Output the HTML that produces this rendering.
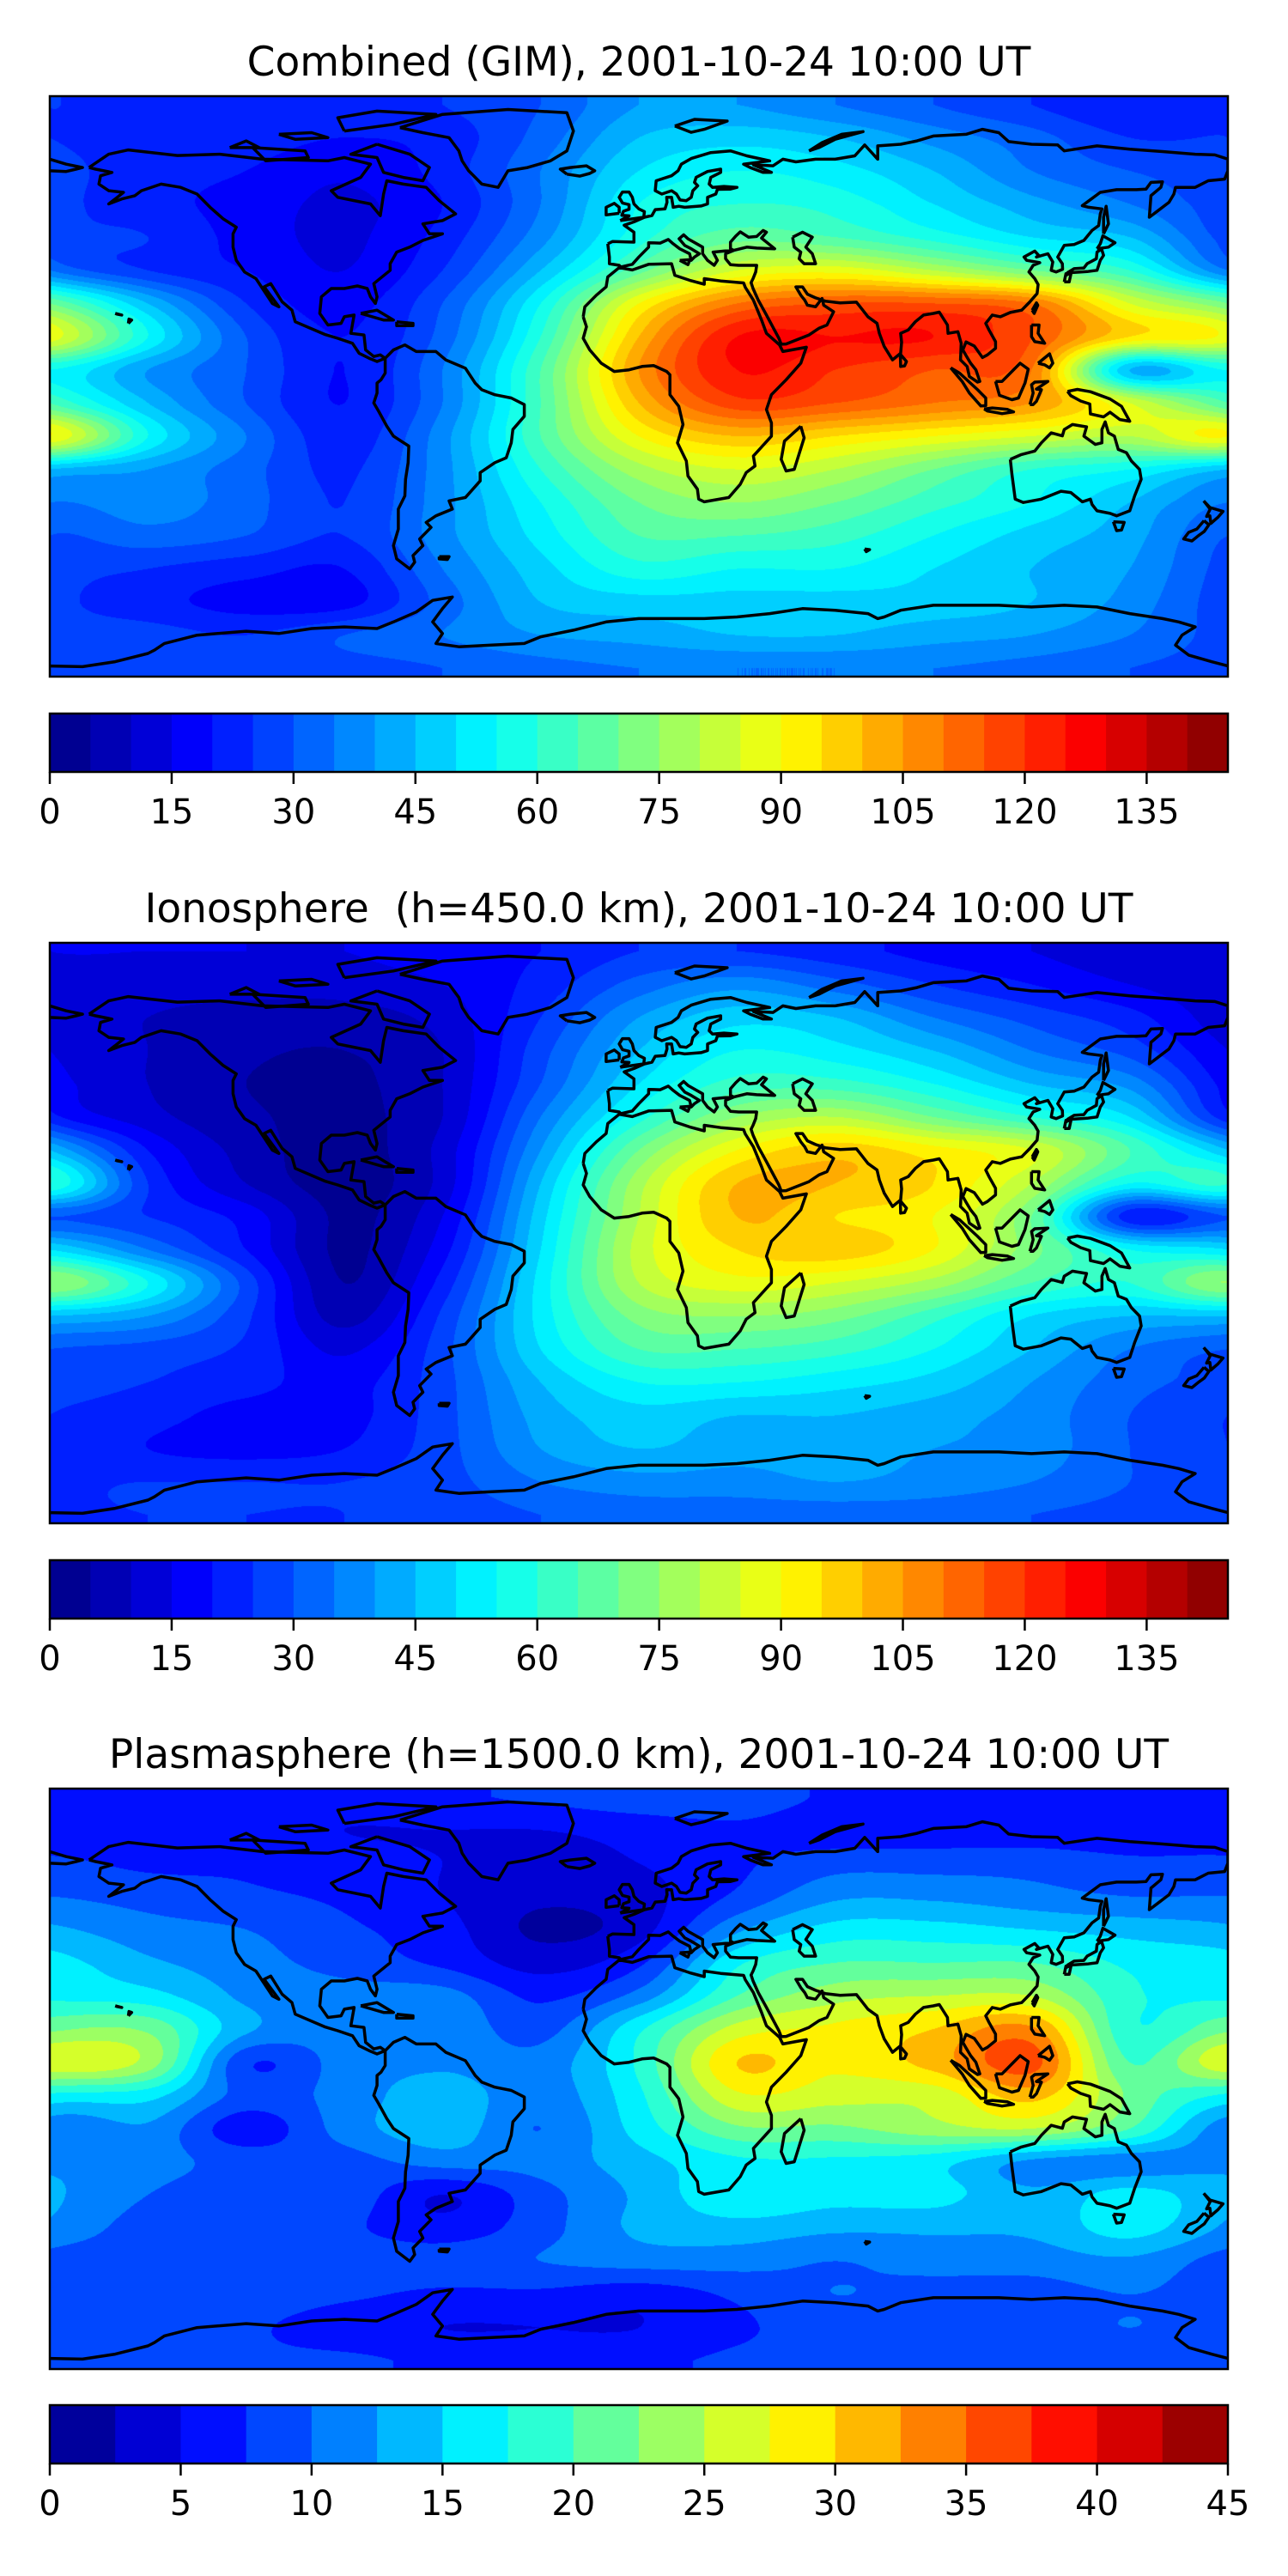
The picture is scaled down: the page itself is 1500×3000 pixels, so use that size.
<!DOCTYPE html>
<html><head><meta charset="utf-8">
<style>
html,body{margin:0;padding:0;background:#fff;}
body{width:1500px;height:3000px;position:relative;overflow:hidden;font-family:"DejaVu Sans","Liberation Sans",sans-serif;}
canvas{position:absolute;}
svg{position:absolute;left:0;top:0;}
</style></head>
<body>
<canvas id="c0"></canvas>
<canvas id="c1"></canvas>
<canvas id="c2"></canvas>
<svg id="ov" width="1500" height="3000"></svg>
<script>
// grid axes
const LONS=[-180,-150,-120,-90,-60,-30,0,30,60,90,120,150,180];
const LATS=[85,75,65,55,45,35,25,15,5,-5,-15,-25,-35,-45,-55,-65,-75,-85];
// Combined GIM TEC values (rows = LATS, cols = LONS)
const combinedGrid=[
[25,22,22,22,25,30,40,40,35,30,25,20,25],
[25,22,22,20,22,32,45,48,45,38,32,25,25],
[27,22,20,16,22,35,50,55,52,45,35,30,27],
[27,22,18,14,20,35,55,60,58,50,42,35,27],
[28,25,18,14,22,38,58,68,65,58,50,45,35],
[35,25,20,15,25,45,68,85,88,80,70,60,45],
[70,45,25,18,30,55,90,110,115,115,110,85,75],
[88,55,30,20,32,60,100,125,125,125,115,95,88],
[55,40,30,20,35,65,105,125,120,115,110,45,50],
[65,45,30,20,35,65,100,118,115,110,105,85,80],
[90,55,35,22,38,65,90,100,95,90,85,80,90],
[45,40,32,24,38,60,78,85,80,70,60,55,50],
[35,38,32,25,38,55,70,75,70,62,55,45,40],
[30,33,30,25,38,52,65,65,62,55,48,42,35],
[28,25,22,20,35,48,58,55,55,50,45,40,30],
[27,22,18,18,32,45,48,48,48,48,45,38,28],
[28,27,25,30,35,40,42,45,45,42,40,35,30],
[28,27,27,28,30,33,35,35,35,35,33,30,28]];
// Ionosphere values
const ionoGrid=[
[15,15,15,15,18,20,25,25,22,18,15,12,15],
[12,12,12,12,15,22,32,38,32,25,20,15,12],
[12,10,8,8,12,25,40,48,45,35,28,22,12],
[15,10,6,5,10,28,45,55,52,45,35,28,15],
[18,10,5,4,10,30,50,62,62,55,45,38,22],
[22,12,6,4,10,35,58,75,80,70,60,50,35],
[45,20,8,3,12,40,70,90,98,92,85,65,50],
[60,25,10,3,12,45,78,100,100,95,80,55,60],
[30,25,18,4,15,48,80,100,95,90,70,22,35],
[50,35,20,4,18,50,82,95,98,90,72,55,55],
[75,55,28,5,22,52,80,88,85,78,65,60,72],
[45,40,26,8,26,52,72,75,72,62,50,45,42],
[30,28,24,14,28,50,65,65,62,55,45,35,30],
[28,25,22,18,28,45,55,55,52,48,40,32,28],
[25,22,18,18,28,42,48,45,45,42,38,30,25],
[25,20,18,20,28,40,45,42,42,40,38,30,25],
[25,25,25,25,28,35,38,38,40,38,35,30,25],
[25,25,25,25,27,30,32,32,32,32,30,28,25]];
// Plasmasphere values
const plasmaGrid=[
[6,6,6,6,7,8,9,9,7,6,6,6,6],
[6,6,6,5,5,5,6,7,6,6,6,6,6],
[8,7,7,6,5,4,5,7,9,9,9,8,8],
[10,9,8,7,5,3,4,8,12,12,11,10,10],
[13,11,10,8,6,2,4,12,16,16,15,14,13],
[16,13,11,9,7,4,7,17,20,20,20,17,16],
[17,16,12,11,11,7,11,20,24,25,25,18,16],
[22,22,13,11,12,9,17,26,28,30,33,18,18],
[27,24,8,11,12,11,18,30,28,31,36,20,27],
[17,16,9,11,14,11,17,27,26,26,31,22,17],
[11,12,6,11,14,10,16,22,22,24,25,20,14],
[12,11,9,9,11,11,14,17,17,16,12,11,12],
[13,10,9,9,5,9,13,17,16,16,13,16,13],
[12,9,9,8,6,9,13,14,13,13,13,16,12],
[9,9,9,9,9,10,11,11,10,11,11,12,9],
[9,9,9,8,7,7,6,8,10,9,9,10,9],
[9,9,8,6,5,5,5,7,9,9,9,10,9],
[9,9,8,8,7,7,7,8,9,9,9,9,9]];
// contour levels and colorbar ticks
const tecLevels=[0,5,10,15,20,25,30,35,40,45,50,55,60,65,70,75,80,85,90,95,100,105,110,115,120,125,130,135,140,145];
const tecTicks=[0,15,30,45,60,75,90,105,120,135];
const plasmaLevels=[0,2.5,5,7.5,10,12.5,15,17.5,20,22.5,25,27.5,30,32.5,35,37.5,40,42.5,45];
const plasmaTicks=[0,5,10,15,20,25,30,35,40,45];
const titles=["Combined (GIM), 2001-10-24 10:00 UT","Ionosphere\u00a0 (h=450.0 km), 2001-10-24 10:00 UT","Plasmasphere (h=1500.0 km), 2001-10-24 10:00 UT"];

// coastlines [lon,lat]
const coasts=[
[[-168,66],[-162,70],[-156,71.3],[-141,69.6],[-128,70],[-115,68.5],[-95,68],[-90,69],[-82,67],[-85,63],[-94,59],[-92,57],[-82,55],[-79,51.5],[-78,58],[-77,62],[-72,61],[-65,60],[-61,56],[-56,52],[-60,50],[-66,49],[-64,46],[-60,46],[-66,44],[-70,42],[-74,40.5],[-76,37],[-76,35],[-81,31],[-80,27],[-80.5,25],[-82,27],[-83,29.5],[-86,30.3],[-90,29.5],[-94,29.5],[-97,27],[-97.5,22],[-95,18.5],[-91,19],[-90,21],[-87,21.5],[-88,16],[-84,15.5],[-83.5,11],[-81,9],[-79,9.5],[-77.5,8.5],[-80,7.5],[-82,8.3],[-85.5,10],[-87.5,13],[-92,14.5],[-96,15.7],[-105,19.5],[-106,23],[-109,25.5],[-112.5,31],[-114.5,30],[-110,24],[-112,25],[-115,29.5],[-117,32.5],[-120.5,34.5],[-123,38],[-124,42],[-124,46],[-123,48],[-127,50.5],[-131,54],[-135,58],[-140,60],[-146,61],[-152,59],[-154,57.5],[-158,56.5],[-162,55],[-160,56.5],[-157.5,58.5],[-162,59],[-165,61],[-164.5,63.5],[-161,64.5],[-166,65.5],[-168,66]],
[[-73,78],[-60,82],[-40,83.5],[-22,82.5],[-20,77],[-22,71],[-27,68],[-34,66],[-40,65],[-43,60],[-48,61],[-52,65],[-54,68],[-55,71],[-58,75],[-66,76.5],[-73,78]],
[[-80,73],[-70,70],[-64,66],[-66,62],[-72,63],[-78,64.5],[-80,69],[-88,70],[-80,73]],
[[-118,72],[-102,71],[-101,69],[-114,68],[-118,72]],
[[-90,77],[-75,79],[-62,82],[-80,83],[-92,81],[-90,77]],
[[-125,72],[-120,74],[-116,72],[-125,72]],
[[-110,76],[-100,76.5],[-95,75],[-105,74.5],[-110,76]],
[[-85,22],[-80,23],[-75,20],[-78,20],[-85,22]],
[[-74,19.5],[-69,19],[-69,18.3],[-74,18.3],[-74,19.5]],
[[-156,19],[-155,20],[-155.8,20.3],[-156,19]],
[[-160,22],[-158,21.5],[-159.5,21.8],[-160,22]],
[[-77.5,8.5],[-75,11],[-71.5,12.5],[-68,10.5],[-62,10.5],[-59,8],[-53,5.5],[-50,1],[-48,-1],[-44,-2.5],[-39,-3.5],[-35,-5.5],[-35,-9],[-38.5,-13],[-39,-17],[-40.5,-21.5],[-44,-23],[-48.5,-26],[-48.5,-28.5],[-53,-33.5],[-58,-34.5],[-57,-37],[-62,-39],[-65,-41],[-63.5,-42.5],[-67,-46],[-66,-48],[-69,-51],[-68.5,-53],[-70,-55],[-74,-52],[-75,-48],[-73.5,-43],[-73.5,-37],[-71.5,-33],[-71.3,-28],[-70.5,-23],[-70.3,-18],[-75,-15],[-77,-12],[-79.5,-7.5],[-81,-5],[-80,-2],[-80,1],[-78.8,2],[-77.5,4],[-77.5,8.5]],
[[-61,-51.3],[-58,-51.3],[-58.5,-52.2],[-61,-52],[-61,-51.3]],
[[-17,21],[-16.5,24],[-13,27.5],[-10,30],[-9.5,33],[-6,35.8],[-2,35.1],[3,36.8],[10,37],[11,33.5],[15.5,32],[20,30.8],[20,32.5],[25,31.8],[32,31.2],[32.5,29.9],[35,26],[37.5,20],[39,16],[43,12.5],[44,10.5],[51.2,11.8],[49.5,7],[45,2],[40.5,-2.5],[39,-7],[40.5,-11],[40.5,-15],[35,-21],[35.5,-24],[32.8,-26],[31,-29.5],[27.5,-33.5],[20,-34.8],[18.3,-34],[17.9,-31],[15,-27],[14.5,-22.5],[11.8,-17],[13.5,-11.5],[12.2,-6],[9.5,-2.5],[9.5,3.5],[8.5,4.5],[4.5,6.3],[1,6],[-3,5],[-7.5,4.5],[-11.5,7],[-15,11],[-17,14.5],[-16,18],[-17,21]],
[[49.5,-12],[50.5,-15.5],[47.5,-25],[45,-25.5],[43.5,-22],[44.5,-16.5],[49.5,-12]],
[[-9.5,43],[-9,39],[-9,37],[-6,36.5],[-5.5,36],[-2,36.8],[0,39],[3,42],[3,43.3],[6.5,43.2],[9,44.3],[10.5,43],[12.5,41.5],[15.5,40],[16,38],[17,39],[18.5,40],[16,41.5],[14,42.5],[12.3,44.5],[13.7,45.7],[15,44.5],[19.5,42],[19.5,40],[21,38],[23,36.5],[24,38],[22.7,40.5],[26,40.8],[29,41],[28,41.5],[28,43.5],[29.6,45.3],[31,46.6],[33.5,45],[36,45.2],[38,47],[39,46.5],[37.5,44.7],[41.5,41.5],[36,41.7],[33,42],[29,41],[26.5,40],[26.5,38.5],[28,36.7],[30.5,36.5],[36,36.5],[35.7,34.5],[34.9,32.5],[34.3,31.3],[34.9,29.5],[36.5,26],[39,21.5],[42.8,14.5],[43.5,12.7],[45,12.8],[52,15.5],[55,17.5],[57.5,18.5],[59.5,22.5],[56.5,24.5],[56,26.5],[54,24],[51.5,24.5],[50.7,26],[49.5,27.5],[48,30],[50,30],[51.5,27.8],[54,26.7],[57,25.7],[61.5,25.2],[66.5,25.4],[68,23.5],[70,21],[72.8,19],[73.5,16],[75,12],[77.5,8],[80,10],[80.3,13.3],[80,16],[82.3,17],[84.5,19.5],[87,21.5],[90,22],[91.8,22.4],[94.3,18.5],[94.5,16],[97.5,16.5],[98.5,13],[98.3,8],[100.3,6],[101,3],[103.5,1.3],[104.2,1.5],[103,5],[101.4,7],[100,9.3],[99,11],[100,13.4],[102.5,12.2],[105,8.7],[106.5,9.5],[109,11.5],[109,13.5],[107,17],[106,19],[108,21.5],[110.5,21],[113.5,22.3],[117,23],[119.5,25.5],[121.7,28],[122,30.7],[121,32.5],[119.2,34.5],[120.5,36.5],[122.5,37.3],[118.5,38],[117.7,39],[121,40.8],[122.2,39.5],[121.5,39],[125,40],[126.5,37.5],[126,35],[127.5,34.5],[129.5,35.3],[129.4,37],[128,39],[130,42.5],[133,42.8],[136,44],[138.5,47],[140.5,48.5],[141,52],[141.5,53.5],[137.5,54],[135.5,54.5],[141,58.5],[146,59.3],[152,59.3],[155,59.5],[156.5,61.5],[160,61.7],[159.5,60],[156.5,57.5],[156,51],[158,52.5],[162,55.5],[163.5,58],[164,60],[170,60],[174,62],[179,62.5],[180,65],[180,68.5],[176,69.8],[170,70],[160,70.8],[150,71.5],[140,72.5],[130,71],[128,72.8],[120,73],[113,73.8],[110,76.5],[105,77.5],[100,76],[90,75.5],[85,74],[80,73],[73,72.5],[73,68.5],[69,72.8],[66,69.5],[60,68.5],[54,68.5],[48,67.7],[44,68.5],[41,66.5],[35,66.8],[40.5,64.5],[38,64.5],[34,66],[32,67],[40,68],[33,69.5],[28,71],[22,70.5],[16,68.7],[13,67],[12,65],[10,63.5],[5.3,62],[5,59],[7,58],[10,59],[11.5,58],[12.6,56.2],[14.5,56],[16,57],[16.5,59],[18,60.5],[17,61.5],[17.5,63],[21,64.8],[25,65.5],[25,64.5],[22,63],[21.5,61],[22.5,60],[26,60.3],[30,60],[28,59.5],[24,59.4],[23.5,58],[21,57],[21,56],[21,55],[19,54.4],[14,54],[12.2,54.3],[10.5,54],[10,57],[8.5,57],[8.6,55.5],[8,53.5],[5,53.3],[4,51.5],[1.7,51],[-1.5,49.6],[-4.5,48.6],[-1.5,46.5],[-1.5,43.5],[-8,43.7],[-9.5,43]],
[[-180,65],[-175,64.8],[-172,65.5],[-170,66],[-175,67],[-180,68.5]],
[[47,45],[50,46.5],[53,45],[51,42],[53,40],[54,37],[50.5,37],[49,38.5],[49.5,40.5],[47.5,42],[47,45]],
[[130.5,33.5],[132,34.3],[135,34.5],[137,34.6],[140,35],[141,38],[142,39.5],[141.4,41.4],[140,40.5],[139.8,38.5],[137,37],[136,35.7],[133,35.5],[131,34.3],[130.5,33.5]],
[[140,41.5],[141,43],[141.8,45.4],[145.5,43.3],[143.5,42],[140,41.5]],
[[130,31.5],[131.5,31.5],[132,33.8],[130.5,34],[130,31.5]],
[[142,46],[143.5,49],[142.8,54.3],[142,51],[142,46]],
[[120.2,23],[121.5,25.2],[121.9,24.5],[120.8,22],[120.2,23]],
[[120,18.5],[122.3,18.5],[122,16],[124,13],[121,13.5],[120,15],[120,18.5]],
[[122,7],[125.5,9.8],[126.5,7],[125.5,5.6],[124,6.5],[122,7]],
[[109,1.5],[111,1.5],[116.5,7],[119,5.2],[118,1],[116,-3.5],[114,-4],[110.2,-2.7],[109,1.5]],
[[95.3,5.6],[98,4],[103.5,-1],[106,-3.5],[106,-5.8],[104.5,-5.9],[101,-2],[98.8,1.5],[95.3,5.6]],
[[105.5,-6.8],[108,-6.5],[112.6,-6.9],[114.5,-7.7],[111,-8.2],[106.5,-7.4],[105.5,-6.8]],
[[119.5,-5.5],[120.5,-2],[120,0.5],[121,1.3],[125,1.5],[121.5,-0.8],[123,-1],[121.5,-4.5],[120.5,-5.5],[119.5,-5.5]],
[[131,-1.5],[134,-0.9],[138,-1.6],[144,-3.8],[147.5,-6],[150,-10.5],[147,-10],[144,-7.8],[142,-9.2],[138,-8.3],[137.8,-5.3],[135,-4.4],[132,-2.8],[131,-1.5]],
[[113.5,-22],[114,-26.5],[115,-34],[117.5,-35],[123,-34],[129,-31.6],[132,-32],[135.5,-34.8],[138,-34],[138.5,-35.6],[140,-37.5],[144,-38.3],[146,-39],[150,-37.5],[151.5,-33],[153.5,-28],[153,-25],[150.5,-22.5],[149,-20],[146.5,-19],[145.3,-15],[143.5,-14],[142.5,-10.7],[141.5,-13],[141.5,-17],[139.5,-17.5],[136,-15],[136.8,-12.2],[132.5,-11.5],[130,-13],[129.4,-14.9],[126,-14],[123,-17],[121,-19.5],[116.7,-20.6],[113.5,-22]],
[[145,-40.8],[148.3,-41],[147.5,-43.3],[146,-43.5],[145,-40.8]],
[[172.6,-34.5],[174.5,-36.5],[178.5,-37.7],[176.9,-39.5],[174.8,-41.3],[174.5,-39],[173.5,-39.2],[174.6,-37],[172.6,-34.5]],
[[172.7,-40.5],[174.2,-41.7],[172.8,-43.7],[171,-45],[169,-46.6],[166.5,-46],[168,-44],[170.5,-43],[172.7,-40.5]],
[[79.9,9.7],[81.8,7.5],[81.2,6.2],[80,6],[79.9,9.7]],
[[-5.7,50],[1.5,51],[1.7,52.7],[0,53.5],[-1.5,55],[-2,57],[-3,58.6],[-5,58.6],[-6,57],[-5,55.3],[-3,54.8],[-3,53.4],[-4.7,52.8],[-5.2,51.6],[-3,51.4],[-5.7,50]],
[[-6,52.2],[-6,54],[-7.5,55.2],[-10,54],[-10,51.7],[-6,52.2]],
[[-22,64],[-24,65.5],[-21,66],[-16,66.5],[-13.5,65],[-15,64.2],[-18,63.4],[-22,64]],
[[11,78.5],[17,80.5],[27,80],[20,77.5],[16,76.6],[11,78.5]],
[[52,71],[56,73.5],[62,76],[68.5,76.8],[60,74.5],[55,72],[52,71]],
[[12.5,38],[15.6,38.2],[15,36.7],[12.5,38]],
[[69,-49],[70.5,-49.2],[69.5,-49.8],[69,-49]],
[[-180,-84.3],[-170,-84.5],[-160,-83],[-150,-80.5],[-148,-79.5],[-145,-77.5],[-135,-75],[-120,-73.8],[-110,-74.5],[-100,-73],[-90,-72.5],[-80,-73],[-75,-71],[-68,-68],[-63,-64.5],[-57,-63.5],[-60,-67],[-63,-71],[-60,-74.5],[-62,-77.5],[-55,-78.5],[-45,-78],[-35,-77.5],[-30,-75.5],[-20,-73.5],[-10,-71],[0,-70],[10,-70],[20,-70],[30,-69.5],[40,-68.5],[50,-67],[60,-67.5],[70,-68.5],[73,-70],[75,-69.5],[80,-67.5],[90,-66],[100,-66],[110,-66],[120,-66.5],[130,-66],[140,-66.5],[150,-68.5],[160,-70],[165,-71],[170,-72.5],[166,-75],[164,-78],[168,-81],[175,-83],[180,-84.3]]
];

const NS='http://www.w3.org/2000/svg';
const ov=document.getElementById('ov');
const MX=58, MW=1372, MH=676;
const mapTops=[112,1098,2083];
const cbTops=[831,1817,2801];
const CBH=68;
const grids=[combinedGrid,ionoGrid,plasmaGrid];
const levelSets=[tecLevels,tecLevels,plasmaLevels];
const tickSets=[tecTicks,tecTicks,plasmaTicks];
const panelNames=['combined','ionosphere','plasmasphere'];

function jet(x){
  const c=v=>Math.max(0,Math.min(1,v));
  return [c(1.5-Math.abs(4*x-3)),c(1.5-Math.abs(4*x-2)),c(1.5-Math.abs(4*x-1))].map(v=>Math.round(v*255));
}
function cr(p0,p1,p2,p3,t){
  return 0.5*((2*p1)+(-p0+p2)*t+(2*p0-5*p1+4*p2-p3)*t*t+(-p0+3*p1-3*p2+p3)*t*t*t);
}
function sample(g,lon,lat){
  const nC=LONS.length-1, nR=LATS.length;
  const dLon=LONS[1]-LONS[0], dLat=LATS[0]-LATS[1];
  const fx=(lon-LONS[0])/dLon;
  let fy=(LATS[0]-lat)/dLat;
  fy=Math.max(0,Math.min(nR-1,fy));
  const ix=Math.floor(fx), tx=fx-ix;
  const iy=Math.min(nR-2,Math.floor(fy)), ty=fy-iy;
  const rows=[];
  for(let j=-1;j<=2;j++){
    const r=g[Math.max(0,Math.min(nR-1,iy+j))];
    const v=[];
    for(let i=-1;i<=2;i++){v.push(r[((ix+i)%nC+nC)%nC]);}
    rows.push(cr(v[0],v[1],v[2],v[3],tx));
  }
  return cr(rows[0],rows[1],rows[2],rows[3],ty);
}
function px(lon){return MX+(lon+180)/360*MW;}
function py(lat,top){return top+(87.5-lat)/175*MH;}
function mk(tag,attrs,parent){
  const e=document.createElementNS(NS,tag);
  for(const k in attrs)e.setAttribute(k,attrs[k]);
  (parent||ov).appendChild(e);return e;
}

for(let p=0;p<3;p++){
  const top=mapTops[p], g=grids[p], lv=levelSets[p], N=lv.length-1;
  const cv=document.getElementById('c'+p);
  cv.width=MW;cv.height=MH;cv.style.left=MX+'px';cv.style.top=top+'px';
  const ctx=cv.getContext('2d');
  const img=ctx.createImageData(MW,MH);
  const pal=[];for(let i=0;i<N;i++)pal.push(jet((i+0.5)/N));
  const lonArr=new Float32Array(MW);
  for(let x=0;x<MW;x++)lonArr[x]=-180+(x+0.5)/MW*360;
  for(let y=0;y<MH;y++){
    const lat=87.5-(y+0.5)/MH*175;
    for(let x=0;x<MW;x++){
      const v=sample(g,lonArr[x],lat);
      let k=0;while(k<N-1&&v>=lv[k+1])k++;
      const c=pal[k],o=(y*MW+x)*4;
      img.data[o]=c[0];img.data[o+1]=c[1];img.data[o+2]=c[2];img.data[o+3]=255;
    }
  }
  ctx.putImageData(img,0,0);

  const t=mk('text',{x:744,y:top-24,'text-anchor':'middle','font-size':47,fill:'#000','font-family':'DejaVu Sans, Liberation Sans, sans-serif'});
  
  
  t.textContent=titles[p];

  const defs=mk('defs',{});
  const cp=mk('clipPath',{id:'clip'+p},defs);
  mk('rect',{x:MX,y:top,width:MW,height:MH},cp);
  const cg=mk('g',{fill:'none',stroke:'#000','stroke-width':3.5,'stroke-linejoin':'round'});
  
  
  cg.setAttribute('clip-path','url(#clip'+p+')');
  for(const poly of coasts){
    const d=poly.map((q,i)=>(i?'L':'M')+px(q[0]).toFixed(1)+','+py(q[1],top).toFixed(1)).join('');
    const pe=mk('path',{d:d},cg);
    
    
  }
  const fr=mk('rect',{x:MX,y:top,width:MW,height:MH,fill:'none',stroke:'#000','stroke-width':2.5});
  
  

  const cbTop=cbTops[p];
  const cbg=mk('g',{});
  
  
  const vmax=lv[N];
  for(let i=0;i<N;i++){
    const x0=MX+lv[i]/vmax*MW, x1=MX+lv[i+1]/vmax*MW, c=pal[i];
    const r=mk('rect',{x:x0,y:cbTop,width:x1-x0+0.6,height:CBH,fill:'rgb('+c.join(',')+')'},cbg);
    
    
  }
  mk('rect',{x:MX,y:cbTop,width:MW,height:CBH,fill:'none',stroke:'#000','stroke-width':2.5},cbg);
  for(const tk of tickSets[p]){
    const x=MX+tk/vmax*MW;
    const tl=mk('line',{x1:x,x2:x,y1:cbTop+CBH,y2:cbTop+CBH+14,stroke:'#000','stroke-width':2.5},cbg);
    
    
    const tt=mk('text',{x:x,y:cbTop+CBH+60,'text-anchor':'middle','font-size':40,fill:'#000','font-family':'DejaVu Sans, Liberation Sans, sans-serif'},cbg);
    
    
    tt.textContent=String(tk);
  }
}
</script>
</body></html>
